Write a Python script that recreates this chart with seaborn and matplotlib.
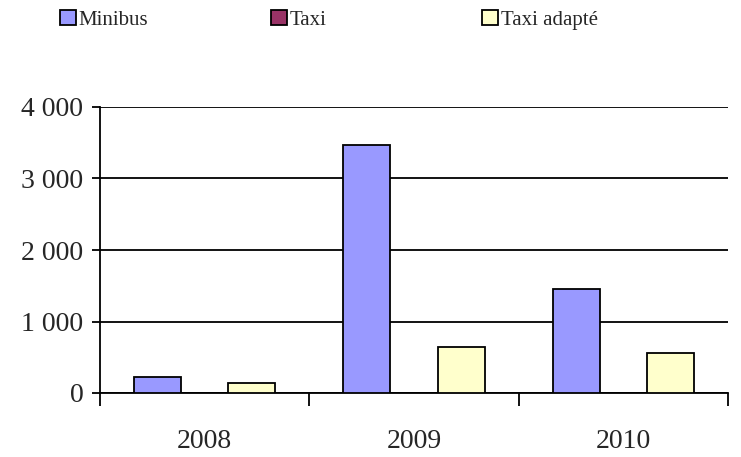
import matplotlib
matplotlib.use("Agg")
import matplotlib.pyplot as plt
import seaborn as sns
import pandas as pd
from matplotlib.ticker import FuncFormatter, FixedLocator

years = ["2008", "2009", "2010"]
series = ["Minibus", "Taxi", "Taxi adapté"]
minibus = [225, 3470, 1455]
taxi = [0, 0, 0]
taxi_adapte = [140, 645, 560]
colors = ["#9999FF", "#993366", "#FFFFCC"]

rows = []
for name, vals in zip(series, [minibus, taxi, taxi_adapte]):
    for y, v in zip(years, vals):
        rows.append({"year": y, "series": name, "value": v})
df = pd.DataFrame(rows)

sns.set_style("white")
plt.rcParams["font.family"] = ["Liberation Serif", "DejaVu Serif"]

fig = plt.figure(figsize=(7.41, 4.57), dpi=100)
ax = fig.add_axes([100/741, 1-393/457, (728-100)/741, (393-107)/457])

sns.barplot(data=df, x="year", y="value", hue="series", hue_order=series,
            order=years, palette=colors, edgecolor="black", linewidth=1.3,
            width=0.675, saturation=1, ax=ax, zorder=3)

handles, labels = ax.get_legend_handles_labels()
if ax.get_legend() is not None:
    ax.get_legend().remove()

ax.set_ylim(0, 4000)
ax.set_xlim(-0.5, 2.5)
ax.set_yticks([0, 1000, 2000, 3000, 4000])
ax.yaxis.set_major_formatter(FuncFormatter(lambda v, p: f"{int(v):,}".replace(",", " ")))
ax.grid(axis="y", color="black", linewidth=1.3, zorder=0)
ax.grid(axis="x", visible=False)
ax.set_axisbelow(True)

ax.xaxis.set_major_locator(FixedLocator([-0.5, 0.5, 1.5, 2.5]))
ax.xaxis.set_minor_locator(FixedLocator([0, 1, 2]))
ax.set_xticklabels([], minor=False)
ax.set_xticklabels(years, minor=True)
ax.tick_params(axis="x", which="major", length=9, width=1.3, direction="out", color="black", bottom=True)
ax.tick_params(axis="x", which="minor", length=0, pad=26, labelsize=20)
ax.tick_params(axis="y", length=6, width=1.3, direction="out", color="black", pad=6, labelsize=20, left=True)
ax.set_xlabel("")
ax.set_ylabel("")

for s in ["top", "right"]:
    ax.spines[s].set_visible(False)
for s in ["left", "bottom"]:
    ax.spines[s].set_color("black")
    ax.spines[s].set_linewidth(1.3)

xs = [60/741, 271/741, 482/741]
for h, l, x in zip(handles, labels, xs):
    fig.legend([h], [l], loc="center left", bbox_to_anchor=(x, 1-20/457),
               frameon=False, fontsize=15, handlelength=0.75, handleheight=0.75,
               handletextpad=0.15, borderpad=0, borderaxespad=0)

fig.savefig("out.png", dpi=100)
